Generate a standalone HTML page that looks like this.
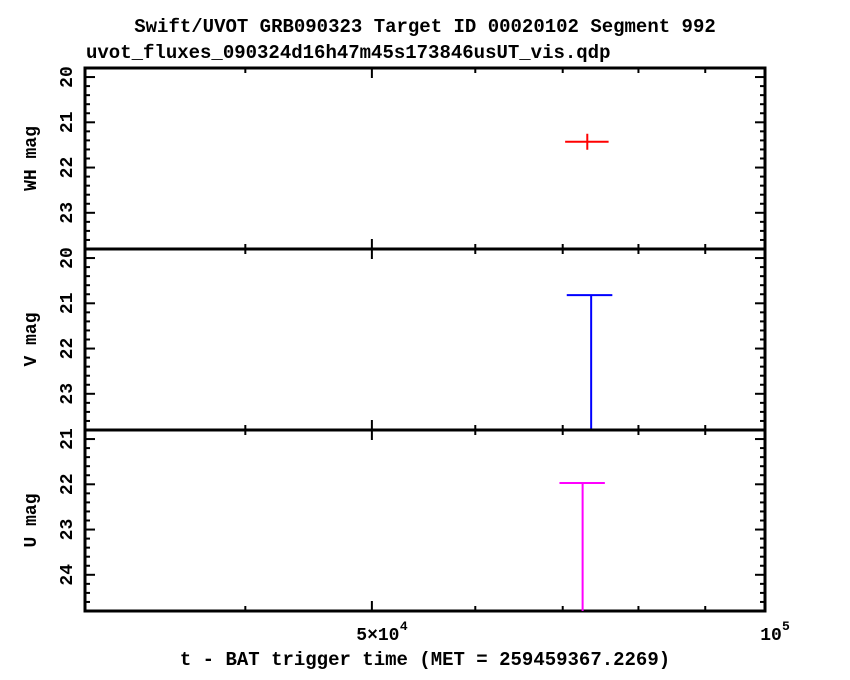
<!DOCTYPE html>
<html><head><meta charset="utf-8"><style>
body{margin:0;background:#fff}
svg{display:block}
text{font-family:"Liberation Mono","DejaVu Sans Mono",monospace;font-weight:bold;fill:#000}
</style></head><body>
<svg id="chart" width="850" height="680" viewBox="0 0 850 680" xmlns="http://www.w3.org/2000/svg">
<text x="425" y="32" font-size="19" text-anchor="middle">Swift/UVOT GRB090323 Target ID 00020102 Segment 992</text>
<text x="86" y="58" font-size="19">uvot_fluxes_090324d16h47m45s173846usUT_vis.qdp</text>
<text x="425" y="665" font-size="19" text-anchor="middle">t - BAT trigger time (MET = 259459367.2269)</text>
<g id="panels"></g>
</svg>
<script>
const panelNames = ["WH", "V", "U"];
const panelYMin = [19.8, 19.8, 20.8];
const panelYMax = [23.8, 23.8, 24.8];
const panelMajorTicks = [[20,21,22,23],[20,21,22,23],[21,22,23,24]];
const pointTime = [73100, 73600, 72500];
const pointTimeLo = [70300, 70500, 69600];
const pointTimeHi = [75900, 76400, 75400];
const pointMag = [21.43, 20.82, 21.97];
const pointIsUpperLimit = [false, true, true];
const pointMagErr = [0.0, 0, 0];
const colors = ["#ff0000", "#0000ff", "#ff00ff"];
const xMin = 30150, xMax = 100000;
const xMajorTicks = [50000, 100000];
const xMajorLabels = ["5×10", "10"];
const xMajorExp = ["4", "5"];
const xMinorTicks = [40000, 60000, 70000, 80000, 90000];

const L = 85, R = 765, panelTop = [68, 249, 430], panelH = 181;
const NS = "http://www.w3.org/2000/svg";
const g = document.getElementById("panels");
function xs(t){ return L + (Math.log10(t) - Math.log10(xMin)) / (Math.log10(xMax) - Math.log10(xMin)) * (R - L); }
function mk(tag, attrs){ const e = document.createElementNS(NS, tag); for (const k in attrs) e.setAttribute(k, attrs[k]); g.appendChild(e); return e; }

for (let p = 0; p < 3; p++) {
  const top = panelTop[p], bot = top + panelH;
  const ys = m => top + (m - panelYMin[p]) / (panelYMax[p] - panelYMin[p]) * panelH;
  const fr = mk("rect", {x: L, y: top, width: R - L, height: panelH, fill: "none", stroke: "#000", "stroke-width": 3});
  
  
  // y minor ticks every 0.2
  for (let m = Math.ceil(panelYMin[p] * 5) / 5; m <= panelYMax[p] + 1e-6; m += 0.2) {
    const y = ys(m); if (y <= top + 1 || y >= bot - 1) continue;
    const isMaj = Math.abs(m - Math.round(m)) < 1e-6;
    const len = isMaj ? 10 : 5;
    const t1 = mk("line", {x1: L, x2: L + len, y1: y, y2: y, stroke: "#000", "stroke-width": 2});
    
    
    const t2 = mk("line", {x1: R, x2: R - len, y1: y, y2: y, stroke: "#000", "stroke-width": 2});
    
    
  }
  panelMajorTicks[p].forEach(m => {
    const y = ys(m);
    const tx = mk("text", {x: 0, y: 0, "font-size": 18, "text-anchor": "middle", transform: `translate(72,${y}) rotate(-90)`});
    tx.textContent = String(m);
    
    
  });
  const yt = mk("text", {x: 0, y: 0, "font-size": 18, "text-anchor": "middle", transform: `translate(36,${top + panelH / 2}) rotate(-90)`});
  yt.textContent = panelNames[p] + " mag";
  
  
  // x ticks
  xMajorTicks.concat(xMinorTicks).forEach((t, i) => {
    const x = xs(t); if (x >= R - 1) return;
    const len = i < xMajorTicks.length ? 10 : 5;
    const a = mk("line", {x1: x, x2: x, y1: bot, y2: bot - len, stroke: "#000", "stroke-width": 2});
    
    
    const b = mk("line", {x1: x, x2: x, y1: top, y2: top + len, stroke: "#000", "stroke-width": 2});
    
    
  });
  // data
  const c = colors[p], x = xs(pointTime[p]), y = ys(pointMag[p]);
  const h = mk("line", {x1: xs(pointTimeLo[p]), x2: xs(pointTimeHi[p]), y1: y, y2: y, stroke: c, "stroke-width": 2});
  
  
  const v = pointIsUpperLimit[p]
    ? mk("line", {x1: x, x2: x, y1: y, y2: bot, stroke: c, "stroke-width": 2})
    : mk("line", {x1: x, x2: x, y1: y - 8, y2: y + 8, stroke: c, "stroke-width": 2});
  
  
}
xMajorTicks.forEach((t, i) => {
  const x = xs(t);
  const tx = mk("text", {x: x + 6, y: 640, "font-size": 18, "text-anchor": "middle"});
  tx.textContent = xMajorLabels[i];
  
  
  const ex = mk("text", {x: x + 6 + xMajorLabels[i].length * 5.5, y: 630, "font-size": 13});
  ex.textContent = xMajorExp[i];
  
  
});
</script>
</body></html>
